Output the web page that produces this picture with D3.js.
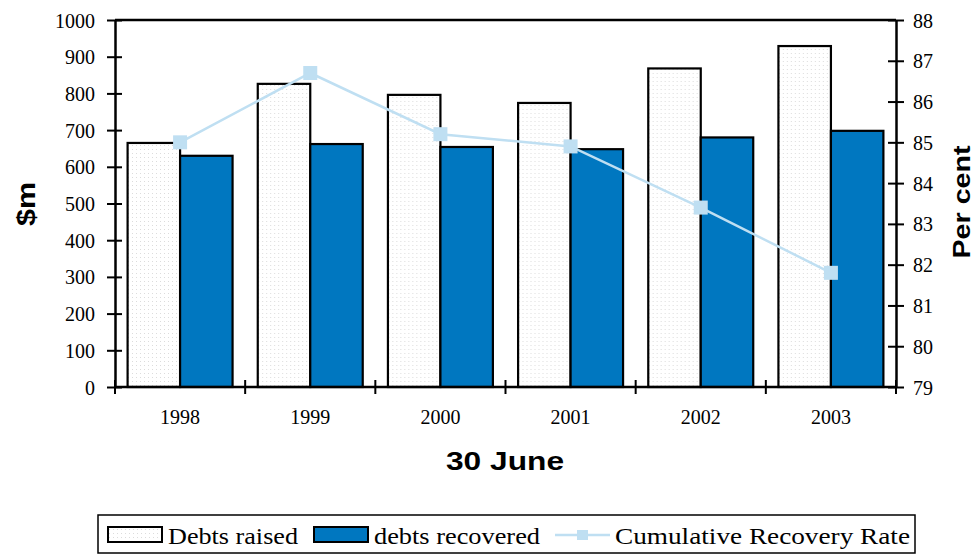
<!DOCTYPE html>
<html>
<head>
<meta charset="utf-8">
<script src="https://cdn.jsdelivr.net/npm/d3@7"></script>
<style>
  body { margin: 0; background: #fff; }
  svg { display: block; }
</style>
</head>
<body>
<svg id="chart"></svg>
<script>
const years = ["1998", "1999", "2000", "2001", "2002", "2003"];
const debtsRaised = [665, 826, 796, 774, 868, 929];
const debtsRecovered = [630, 662, 654, 648, 680, 698];
const recoveryRate = [85.0, 86.7, 85.2, 84.9, 83.4, 81.8];
const leftTicks = [0, 100, 200, 300, 400, 500, 600, 700, 800, 900, 1000];
const rightTicks = [79, 80, 81, 82, 83, 84, 85, 86, 87, 88];
const seriesNames = ["Debts raised", "debts recovered", "Cumulative Recovery Rate"];

const svg_width = 975, svg_height = 555;
const plot = { left: 115, right: 896, top: 20, bottom: 387 };
const serif = "'Liberation Serif', 'Times New Roman', serif";
const sans = "'Liberation Sans', Arial, sans-serif";

const svg = d3.select("#chart")
    .attr("width", svg_width)
    .attr("height", svg_height);

// dotted fill used by the "Debts raised" bars
const pat = svg.append("defs").append("pattern")
    .attr("id", "dots")
    .attr("patternUnits", "userSpaceOnUse")
    .attr("width", 4).attr("height", 4);
pat.append("rect").attr("width", 4).attr("height", 4).attr("fill", "#fff");
pat.append("rect").attr("x", 1).attr("y", 1).attr("width", 1).attr("height", 1).attr("fill", "#dcdcdc");

const x = d3.scaleBand().domain(years).range([plot.left, plot.right]);
const xSub = d3.scaleBand().domain(["raised", "recovered"])
    .range([0, x.bandwidth()]).paddingOuter(0.24);
const y = d3.scaleLinear().domain([0, 1000]).range([plot.bottom, plot.top]);
const y2 = d3.scaleLinear().domain([79, 88]).range([plot.bottom, plot.top]);

const blue = "#0077c0";
const lineCol = "#bfdff2";

// bars
const groups = svg.append("g").selectAll("g")
    .data(years)
    .join("g")
    .attr("transform", d => `translate(${x(d)},0)`);

groups.append("rect")
    .attr("x", xSub("raised"))
    .attr("y", (d, i) => y(debtsRaised[i]))
    .attr("width", xSub.bandwidth())
    .attr("height", (d, i) => y(0) - y(debtsRaised[i]))
    .attr("fill", "url(#dots)")
    .attr("stroke", "#000")
    .attr("stroke-width", 2.2);

groups.append("rect")
    .attr("x", xSub("recovered"))
    .attr("y", (d, i) => y(debtsRecovered[i]))
    .attr("width", xSub.bandwidth())
    .attr("height", (d, i) => y(0) - y(debtsRecovered[i]))
    .attr("fill", blue)
    .attr("stroke", "#000")
    .attr("stroke-width", 2.2);

// top frame line
svg.append("line")
    .attr("x1", plot.left).attr("x2", plot.right)
    .attr("y1", plot.top).attr("y2", plot.top)
    .attr("stroke", "#000").attr("stroke-width", 2.5);

// left axis
const gl = svg.append("g")
    .attr("transform", `translate(${plot.left},0)`)
    .call(d3.axisLeft(y).tickValues(leftTicks).tickFormat(d3.format("d")).tickSizeOuter(0));
gl.selectAll(".tick line").attr("x1", -8).attr("x2", 7).attr("stroke-width", 2);
gl.select(".domain").attr("stroke-width", 2.5);
gl.selectAll(".tick text")
    .attr("dy", "0.35em").attr("x", -20)
    .style("font-family", serif).style("font-size", "20px").attr("fill", "#000");

// right axis
const gr = svg.append("g")
    .attr("transform", `translate(${plot.right},0)`)
    .call(d3.axisRight(y2).tickValues(rightTicks).tickFormat(d3.format("d")).tickSizeOuter(0));
gr.selectAll(".tick line").attr("x1", -8).attr("x2", 8).attr("stroke-width", 2);
gr.select(".domain").attr("stroke-width", 2.5);
gr.selectAll(".tick text")
    .attr("dy", "0.35em").attr("x", 17)
    .style("font-family", serif).style("font-size", "20px").attr("fill", "#000");

// bottom axis: ticks at category boundaries, labels at centres
const gb = svg.append("g")
    .attr("transform", `translate(0,${plot.bottom})`);
gb.append("line")
    .attr("x1", plot.left).attr("x2", plot.right)
    .attr("stroke", "#000").attr("stroke-width", 2.5);
const bounds = years.map(d => x(d)).concat([plot.right]);
gb.selectAll(".bt").data(bounds).join("line")
    .attr("class", "bt")
    .attr("x1", d => d).attr("x2", d => d)
    .attr("y1", -7).attr("y2", 7)
    .attr("stroke", "#000").attr("stroke-width", 2);
gb.selectAll(".bl").data(years).join("text")
    .attr("class", "bl")
    .attr("x", d => x(d) + x.bandwidth() / 2)
    .attr("y", 37)
    .attr("text-anchor", "middle")
    .style("font-family", serif)
    .style("font-size", "20px")
    .text(d => d);

// recovery rate line
const line = d3.line()
    .x((d, i) => x(years[i]) + x.bandwidth() / 2)
    .y(d => y2(d));

svg.append("path")
    .datum(recoveryRate)
    .attr("fill", "none")
    .attr("stroke", lineCol)
    .attr("stroke-width", 2.5)
    .attr("d", line);

svg.append("g").selectAll("rect")
    .data(recoveryRate)
    .join("rect")
    .attr("x", (d, i) => x(years[i]) + x.bandwidth() / 2 - 7)
    .attr("y", d => y2(d) - 7)
    .attr("width", 14).attr("height", 14)
    .attr("fill", lineCol);

// axis titles
svg.append("text")
    .attr("x", 505).attr("y", 470)
    .attr("text-anchor", "middle")
    .style("font-family", sans)
    .style("font-weight", "bold")
    .style("font-size", "26px")
    .attr("textLength", 118)
    .attr("lengthAdjust", "spacingAndGlyphs")
    .text("30 June");

svg.append("text")
    .attr("transform", "translate(35,204) rotate(-90)")
    .attr("text-anchor", "middle")
    .style("font-family", sans)
    .style("font-weight", "bold")
    .style("font-size", "26px")
    .attr("textLength", 44)
    .attr("lengthAdjust", "spacingAndGlyphs")
    .text("$m");

svg.append("text")
    .attr("transform", "translate(970,202) rotate(-90)")
    .attr("text-anchor", "middle")
    .style("font-family", sans)
    .style("font-weight", "bold")
    .style("font-size", "24px")
    .attr("textLength", 113)
    .attr("lengthAdjust", "spacingAndGlyphs")
    .text("Per cent");

// legend
const lg = svg.append("g");
lg.append("rect")
    .attr("x", 98).attr("y", 515)
    .attr("width", 817).attr("height", 38)
    .attr("fill", "#fff").attr("stroke", "#000").attr("stroke-width", 1.5);

lg.append("rect")
    .attr("x", 108).attr("y", 527).attr("width", 54).attr("height", 15)
    .attr("fill", "url(#dots)").attr("stroke", "#000").attr("stroke-width", 2);
lg.append("text")
    .attr("x", 168).attr("y", 544)
    .style("font-family", serif).style("font-size", "23px")
    .attr("textLength", 130).attr("lengthAdjust", "spacingAndGlyphs")
    .text(seriesNames[0]);

lg.append("rect")
    .attr("x", 314).attr("y", 527).attr("width", 54).attr("height", 15)
    .attr("fill", blue).attr("stroke", "#000").attr("stroke-width", 2);
lg.append("text")
    .attr("x", 374).attr("y", 544)
    .style("font-family", serif).style("font-size", "23px")
    .attr("textLength", 166).attr("lengthAdjust", "spacingAndGlyphs")
    .text(seriesNames[1]);

lg.append("line")
    .attr("x1", 555).attr("x2", 610).attr("y1", 535).attr("y2", 535)
    .attr("stroke", lineCol).attr("stroke-width", 2.5);
lg.append("rect")
    .attr("x", 577).attr("y", 530).attr("width", 11).attr("height", 10)
    .attr("fill", lineCol);
lg.append("text")
    .attr("x", 615).attr("y", 544)
    .style("font-family", serif).style("font-size", "23px")
    .attr("textLength", 295).attr("lengthAdjust", "spacingAndGlyphs")
    .text(seriesNames[2]);
</script>
</body>
</html>
